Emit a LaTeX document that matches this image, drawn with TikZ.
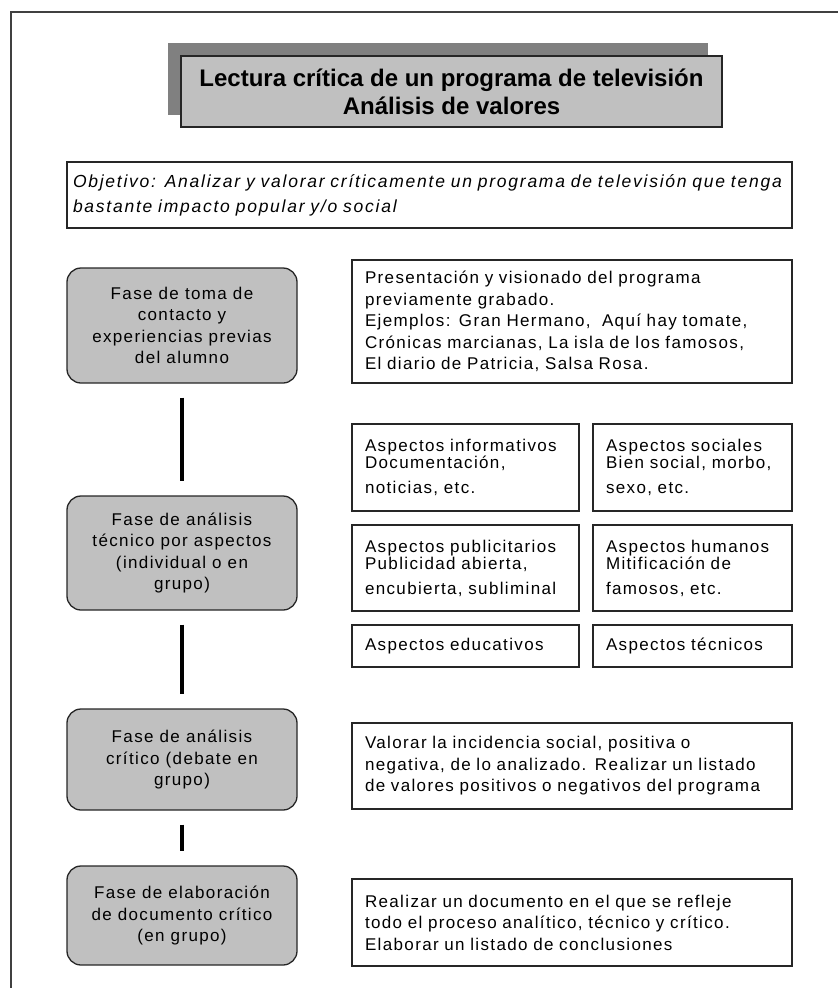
\documentclass[tikz,border=0pt]{standalone}
\usepackage{fontspec}
\newfontfamily\bodyfont{Liberation Sans}[LetterSpace=8]
\newfontfamily\objfont{Liberation Sans}[LetterSpace=10]
\newfontfamily\titlefont{Liberation Sans}
\definecolor{boxgray}{HTML}{C0C0C0}
\definecolor{shadowgray}{HTML}{808080}
\definecolor{framegray}{HTML}{404040}

\tikzset{
  fase/.style={draw=black!85, line width=1.3pt, fill=boxgray, rounded corners=14pt,
    minimum width=230pt, inner sep=0pt, align=center,
    font=\bodyfont\fontsize{17}{21.5}\selectfont},
  infobox/.style={draw=black!85, line width=1.3pt, fill=white, text width=#1,
    inner xsep=13pt, inner ysep=0pt, align=left,
    font=\bodyfont\fontsize{17}{21.5}\selectfont},
  link/.style={line width=3.5pt, shorten <=14pt, shorten >=14pt}
}

\begin{document}
\begin{tikzpicture}[x=1pt,y=-1pt]

\def\fx{182}
\def\rx{572}
\def\ca{465.5}
\def\cb{692.5}

\useasboundingbox (0,0) rectangle (838,988);

%frame
\draw[framegray, line width=2pt] (838,12) -- (11,12) -- (11,988);

%title
\fill[shadowgray] (168,43) rectangle (708,115);
\node[draw=black!85, line width=1.3pt, fill=boxgray, minimum width=541pt, minimum height=71pt,
  align=center, font=\titlefont\bfseries\fontsize{24}{28}\selectfont] (title) at (451.5,91.5)
  {Lectura crítica de un programa de televisión\\Análisis de valores};

%objective
\node[infobox=713pt, inner xsep=6pt, minimum height=66pt,
  font=\objfont\itshape\fontsize{17.5}{25}\selectfont] (obj) at (429.5,195)
  {Objetivo: Analizar y valorar críticamente un programa de televisión que tenga\\
   bastante impacto popular y/o social};

%phases
\node[fase, minimum height=115pt] (f1) at (\fx,325.5)
  {Fase de toma de\\contacto y\\experiencias previas\\del alumno};
\node[fase, minimum height=114pt] (f2) at (\fx,553)
  {Fase de análisis\\técnico por aspectos\\(individual o en\\grupo)};
\node[fase, minimum height=101pt] (f3) at (\fx,759.5)
  {Fase de análisis\\crítico (debate en\\grupo)};
\node[fase, minimum height=99pt] (f4) at (\fx,915.5)
  {Fase de elaboración\\de documento crítico\\(en grupo)};

\foreach \a/\b in {f1/f2, f2/f3, f3/f4}{
    \draw[link] (\a) -- (\b);
}

%contents
\node[infobox=414pt, minimum height=123pt] (c1) at (\rx,321.5)
  {Presentación y visionado del programa\\previamente grabado.\\
   Ejemplos: Gran Hermano,\ \ Aquí hay tomate,\\
   Crónicas marcianas, La isla de los famosos,\\El diario de Patricia, Salsa Rosa.};

\node[infobox=201pt, minimum height=87pt] (inf) at (\ca,467.5)
  {Aspectos informativos\\[-4.5pt]Documentación,\\[3.5pt]noticias, etc.};
\node[infobox=173pt, minimum height=87pt] (soc) at (\cb,467.5)
  {Aspectos sociales\\[-4.5pt]Bien social, morbo,\\[3.5pt]sexo, etc.};
\node[infobox=201pt, minimum height=86pt] (pub) at (\ca,568)
  {Aspectos publicitarios\\[-4.5pt]Publicidad abierta,\\[3.5pt]encubierta, subliminal};
\node[infobox=173pt, minimum height=86pt] (hum) at (\cb,568)
  {Aspectos humanos\\[-4.5pt]Mitificación de\\[3.5pt]famosos, etc.};
\node[infobox=201pt, minimum height=42pt] (edu) at (\ca,646) {Aspectos educativos};
\node[infobox=173pt, minimum height=42pt] (tec) at (\cb,646) {Aspectos técnicos};

\node[infobox=414pt, minimum height=86pt] (c3) at (\rx,766)
  {Valorar la incidencia social, positiva o\\
   negativa, de lo analizado. Realizar un listado\\
   de valores positivos o negativos del programa};
\node[infobox=414pt, minimum height=87pt] (c4) at (\rx,922.5)
  {Realizar un documento en el que se refleje\\
   todo el proceso analítico, técnico y crítico.\\
   Elaborar un listado de conclusiones};

\end{tikzpicture}
\end{document}
